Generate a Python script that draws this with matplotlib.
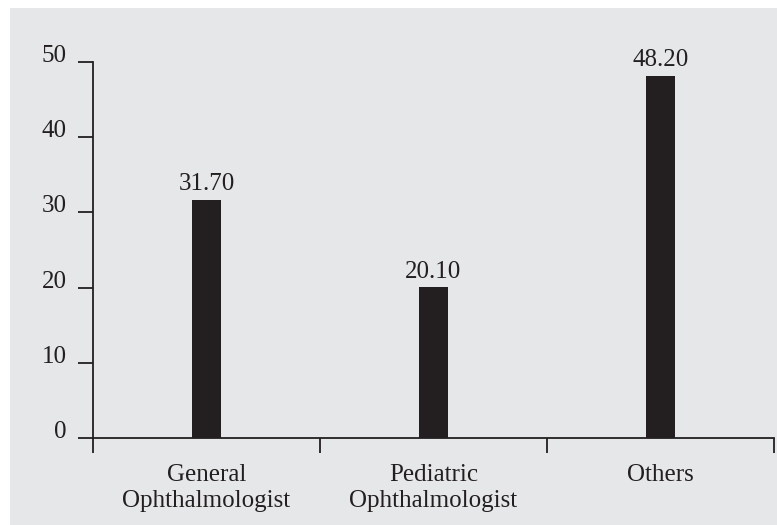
import matplotlib.pyplot as plt
from matplotlib.patches import Rectangle

# datos del grafico
categorias = ["General\nOphthalmologist", "Pediatric\nOphthalmologist", "Others"]
valores = [31.70, 20.10, 48.20]
ticks_y = [0, 10, 20, 30, 40, 50]

NEGRO = "#231f20"
FONDO = "#e6e7e8"

plt.rcParams['font.family'] = ['Liberation Serif', 'DejaVu Serif']

fig = plt.figure(figsize=(7.77, 5.25), dpi=100)
fig.patch.set_facecolor("white")
# fondo gris con borde blanco arriba e izquierda
fig.patches.append(Rectangle((10 / 777, 0), 767 / 777, 517 / 525,
                             transform=fig.transFigure, facecolor=FONDO,
                             edgecolor="none", zorder=-5))

ax = fig.add_axes([93 / 777, 87 / 525, 681 / 777, 376 / 525])
ax.set_facecolor("none")
ax.set_zorder(2)

pos = list(range(len(categorias)))
barras = ax.bar(pos, valores, width=0.125, color=NEGRO)
ax.bar_label(barras, labels=[f"{v:.2f}" for v in valores], padding=3,
             fontsize=18, color=NEGRO)

ax.set_xlim(-0.5, len(categorias) - 0.5)
ax.set_ylim(0, 50)

# ticks mayores en los limites, etiquetas en los centros
ax.set_xticks([p - 0.5 for p in pos] + [len(categorias) - 0.5])
ax.set_xticklabels([])
ax.set_xticks(pos, minor=True)
ax.set_xticklabels(categorias, minor=True, fontsize=18, color=NEGRO,
                   linespacing=1.22)
ax.tick_params(axis="x", which="major", direction="out", length=11,
               width=1.3, color=NEGRO)
ax.tick_params(axis="x", which="minor", length=0, pad=19)

ax.set_yticks(ticks_y)
ax.set_yticklabels([str(t) for t in ticks_y], fontsize=18, color=NEGRO)
ax.tick_params(axis="y", direction="out", length=11, width=1.3,
               color=NEGRO, pad=8)
for lab in ax.get_yticklabels():
    lab.set_verticalalignment("baseline")

for lado in ["top", "right"]:
    ax.spines[lado].set_visible(False)
for lado in ["left", "bottom"]:
    ax.spines[lado].set_color(NEGRO)
    ax.spines[lado].set_linewidth(1.3)

plt.savefig("out.png", dpi=100)
plt.close()
